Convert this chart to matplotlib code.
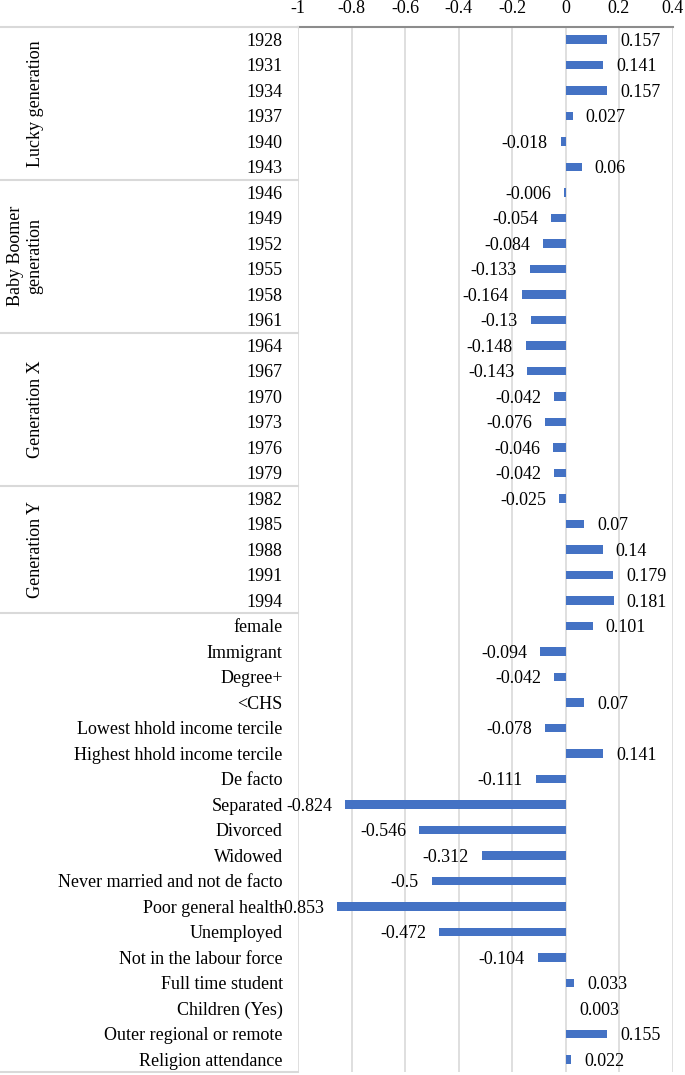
import matplotlib.pyplot as plt
import matplotlib.transforms as mtransforms
from matplotlib.lines import Line2D

plt.rcParams['font.family'] = ['Liberation Serif', 'DejaVu Serif']

# data
groups = ['Lucky generation', 'Baby Boomer\ngeneration', 'Generation X', 'Generation Y']
group_sizes = [6, 6, 6, 5]

labels = ['1928', '1931', '1934', '1937', '1940', '1943',
          '1946', '1949', '1952', '1955', '1958', '1961',
          '1964', '1967', '1970', '1973', '1976', '1979',
          '1982', '1985', '1988', '1991', '1994',
          'female', 'Immigrant', 'Degree+', '<CHS',
          'Lowest hhold income tercile', 'Highest hhold income tercile',
          'De facto', 'Separated', 'Divorced', 'Widowed',
          'Never married and not de facto', 'Poor general health',
          'Unemployed', 'Not in the labour force', 'Full time student',
          'Children (Yes)', 'Outer regional or remote', 'Religion attendance']
values = [0.157, 0.141, 0.157, 0.027, -0.018, 0.06,
          -0.006, -0.054, -0.084, -0.133, -0.164, -0.13,
          -0.148, -0.143, -0.042, -0.076, -0.046, -0.042,
          -0.025, 0.07, 0.14, 0.179, 0.181,
          0.101, -0.094, -0.042, 0.07,
          -0.078, 0.141,
          -0.111, -0.824, -0.546, -0.312,
          -0.5, -0.853,
          -0.472, -0.104, 0.033,
          0.003, 0.155, 0.022]
xticks = [-1, -0.8, -0.6, -0.4, -0.2, 0, 0.2, 0.4]
xtick_labels = ['-1', '-0.8', '-0.6', '-0.4', '-0.2', '0', '0.2', '0.4']

W, H = 685, 1075
fig = plt.figure(figsize=(W / 100, H / 100), dpi=100)
left, right, top, bottom = 298, 672.5, 26.7, 1072.2
ax = fig.add_axes([left / W, (H - bottom) / H, (right - left) / W, (bottom - top) / H])

y = list(range(len(labels)))
ax.barh(y, values, height=0.34, color='#4472C4', zorder=3)
ax.set_xlim(-1, 0.4)
ax.set_ylim(len(labels) - 0.5, -0.5)

# x axis on top
ax.xaxis.tick_top()
ax.set_xticks(xticks)
ax.set_xticklabels(xtick_labels)
ax.tick_params(axis='x', length=0, pad=7, labelsize=13)
ax.set_yticks(y)
ax.set_yticklabels(labels, fontsize=13)
ax.tick_params(axis='y', length=0, pad=11)
for t in ax.get_yticklabels():
    t.set_verticalalignment('center_baseline')
ax.grid(axis='x', color='#D9D9D9', lw=1.2, zorder=0)
for s in ['left', 'right', 'bottom']:
    ax.spines[s].set_visible(False)
ax.spines['top'].set_color('#8C8C8C')
ax.spines['top'].set_linewidth(1.5)

# value labels
for yi, v in zip(y, values):
    if v >= 0:
        ax.annotate(str(v), (v, yi), xytext=(9.3, 0), textcoords='offset points',
                    ha='left', va='center_baseline', fontsize=13)
    else:
        ax.annotate(str(v), (v, yi), xytext=(-9.3, 0), textcoords='offset points',
                    ha='right', va='center_baseline', fontsize=13)

# table lines and group labels on the left
trans = mtransforms.blended_transform_factory(fig.transFigure, ax.transData)
bounds = [-0.5]
pos = -0.5
for n in group_sizes:
    pos += n
    bounds.append(pos)
bounds.append(len(labels) - 0.5)
for b in bounds:
    fig.add_artist(Line2D([0, left / W], [b, b], transform=trans,
                          color='#D9D9D9', lw=1.5))

start = 0
for g, n in zip(groups, group_sizes):
    mid = start + (n - 1) / 2
    xg = 25 if '\n' in g else 35
    fig.text(xg / W, mid, g, transform=trans, rotation=90,
             ha='center', va='center', fontsize=13, multialignment='center')
    start += n

fig.savefig('out.png', dpi=100)
